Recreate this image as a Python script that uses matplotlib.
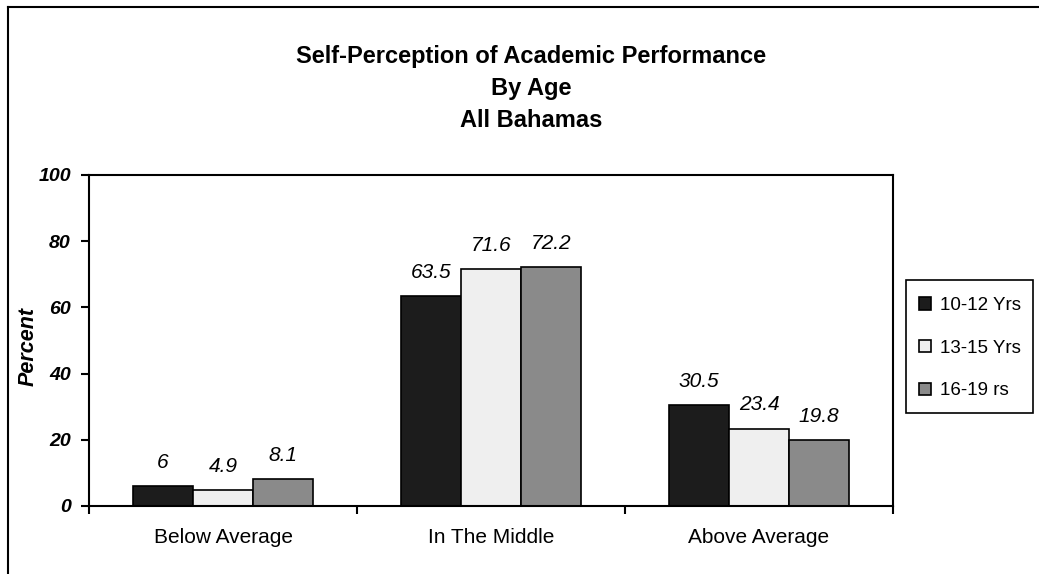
import matplotlib.pyplot as plt
from matplotlib.lines import Line2D
from matplotlib.patches import Rectangle
import numpy as np

categories = ["Below Average", "In The Middle", "Above Average"]
series_names = ["10-12 Yrs", "13-15 Yrs", "16-19 rs"]
vals_10_12 = [6, 63.5, 30.5]
vals_13_15 = [4.9, 71.6, 23.4]
vals_16_19 = [8.1, 72.2, 19.8]
y_ticks = [0, 20, 40, 60, 80, 100]
title_lines = ["Self-Perception of Academic Performance", "By Age", "All Bahamas"]

plt.rcParams['font.family'] = ['Liberation Sans', 'DejaVu Sans']

W, H = 1039, 574
fig = plt.figure(figsize=(W / 100, H / 100), dpi=100)
ax = fig.add_axes([89 / W, 1 - 506 / H, (893 - 89) / W, (506 - 175) / H])

x = np.arange(len(categories))
bw = 0.224
series = [vals_10_12, vals_13_15, vals_16_19]
colors = ['#1c1c1c', '#efefef', '#8a8a8a']
handles = []
for i, (vals, c, name) in enumerate(zip(series, colors, series_names)):
    bars = ax.bar(x + (i - 1) * bw, vals, bw, color=c, edgecolor='black',
                  linewidth=1.2, label=name, zorder=2)
    handles.append(bars)
    for rect, v in zip(bars, vals):
        ax.annotate(f"{v:g}", (rect.get_x() + rect.get_width() / 2, v),
                    xytext=(0, 13), textcoords='offset points',
                    ha='center', va='baseline', fontsize=15, style='italic')

ax.set_xlim(-0.5, 2.5)
ax.set_ylim(0, 100)
ax.set_yticks(y_ticks)
ax.set_yticklabels([str(t) for t in y_ticks], fontsize=14,
                   fontweight='bold', style='italic')
ax.tick_params(axis='y', length=6, width=1.5, pad=7)

# ticks at category boundaries, labels at category centres
ax.set_xticks(np.arange(-0.5, len(categories), 1))
ax.set_xticklabels([])
ax.set_xticks(x, minor=True)
ax.set_xticklabels(categories, minor=True, fontsize=15)
ax.tick_params(axis='x', which='minor', length=0, pad=16)
ax.tick_params(axis='x', which='major', length=6, width=1.5)

for s in ax.spines.values():
    s.set_linewidth(1.5)

fig.text(28 / W, 1 - 347 / H, "Percent", rotation=90, fontsize=15.5,
         fontweight='bold', style='italic', ha='center', va='center')

# title block
for txt, yb in zip(title_lines, [63, 95, 127]):
    fig.text(531 / W, 1 - yb / H, txt, ha='center', va='baseline',
             fontsize=17, fontweight='bold')

# outer chart frame
fig.add_artist(Line2D([8 / W, 8 / W], [0, 1 - 7 / H], color='black', lw=1.5))
fig.add_artist(Line2D([8 / W, 1], [1 - 7 / H, 1 - 7 / H], color='black', lw=1.5))

# legend box drawn separately so its padding can differ per side
fig.add_artist(Rectangle((906 / W, 1 - 413 / H), (1033 - 906) / W, (413 - 280) / H,
                         transform=fig.transFigure, facecolor='white',
                         edgecolor='black', lw=1.2, zorder=1))
leg = fig.legend(handles, series_names, loc='upper left',
                 bbox_to_anchor=(906 / W, 1 - 284 / H), borderaxespad=0,
                 frameon=False, fontsize=13.5, handlelength=0.65,
                 handleheight=0.65, handletextpad=0.45, labelspacing=1.37,
                 borderpad=0.7)
leg.set_zorder(2)

fig.savefig("out.png", dpi=100)
